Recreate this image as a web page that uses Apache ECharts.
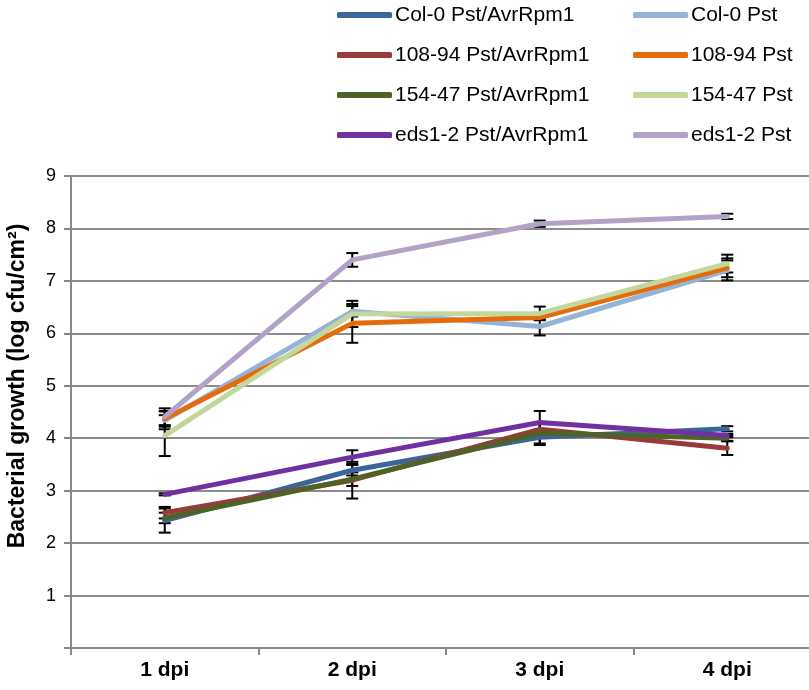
<!DOCTYPE html>
<html>
<head>
<meta charset="utf-8">
<script src="https://cdn.jsdelivr.net/npm/echarts@6/dist/echarts.min.js"></script>
<style>
  html, body { margin: 0; padding: 0; background: #fff; }
  #chart { width: 809px; height: 690px; }
</style>
</head>
<body>
<div id="chart"></div>
<script>
// time points
var days = ['1 dpi', '2 dpi', '3 dpi', '4 dpi']

// means (log cfu/cm2)
var col0Avr = [2.43, 3.39, 4.02, 4.18]
var col0Pst = [4.34, 6.42, 6.13, 7.20]
var l10894Avr = [2.58, 3.20, 4.17, 3.81]
var l10894Pst = [4.37, 6.19, 6.30, 7.25]
var l15447Avr = [2.48, 3.22, 4.10, 4.00]
var l15447Pst = [4.05, 6.37, 6.38, 7.33]
var eds1Avr = [2.93, 3.64, 4.30, 4.05]
var eds1Pst = [4.41, 7.40, 8.09, 8.23]

// error bars (+/-)
var col0AvrErr = [0.23, 0.10, 0.15, 0.05]
var col0PstErr = [0.17, 0.10, 0.17, 0.19]
var l10894AvrErr = [0.11, 0.35, 0.10, 0.13]
var l10894PstErr = [0.15, 0.37, 0.04, 0.18]
var l15447AvrErr = [0.10, 0.13, 0.20, 0.05]
var l15447PstErr = [0.39, 0.25, 0.13, 0.17]
var eds1AvrErr = [0.02, 0.13, 0.22, 0.03]
var eds1PstErr = [0.16, 0.13, 0.06, 0.05]

var lines = [
  { name: 'Col-0 Pst/AvrRpm1', data: col0Avr, err: col0AvrErr, color: '#3b6699' },
  { name: 'Col-0 Pst', data: col0Pst, err: col0PstErr, color: '#95b3d7' },
  { name: '108-94 Pst/AvrRpm1', data: l10894Avr, err: l10894AvrErr, color: '#993b3b' },
  { name: '108-94 Pst', data: l10894Pst, err: l10894PstErr, color: '#e46c0a' },
  { name: '154-47 Pst/AvrRpm1', data: l15447Avr, err: l15447AvrErr, color: '#4f6228' },
  { name: '154-47 Pst', data: l15447Pst, err: l15447PstErr, color: '#c3d69b' },
  { name: 'eds1-2 Pst/AvrRpm1', data: eds1Avr, err: eds1AvrErr, color: '#7030a0' },
  { name: 'eds1-2 Pst', data: eds1Pst, err: eds1PstErr, color: '#b3a2c7' }
]

var font = '"Liberation Sans", Arial, sans-serif'

function errorBar(params, api) {
  var x = api.value(0)
  var top = api.coord([x, api.value(2)])
  var bot = api.coord([x, api.value(1)])
  var half = 6
  var st = { stroke: '#000', lineWidth: 2 }
  return {
    type: 'group',
    children: [
      { type: 'line', shape: { x1: top[0], y1: top[1], x2: bot[0], y2: bot[1] }, style: st },
      { type: 'line', shape: { x1: top[0] - half, y1: top[1], x2: top[0] + half, y2: top[1] }, style: st },
      { type: 'line', shape: { x1: bot[0] - half, y1: bot[1], x2: bot[0] + half, y2: bot[1] }, style: st }
    ]
  }
}

var series = []
lines.forEach(function(s) {
  series.push({
    name: s.name + ' err',
    type: 'custom',
    z: 1,
    silent: true,
    clip: false,
    renderItem: errorBar,
    data: s.data.map(function(v, i) { return [i, v - s.err[i], v + s.err[i]] })
  })
})
lines.forEach(function(s) {
  series.push({
    name: s.name,
    type: 'line',
    z: 2,
    symbol: 'none',
    color: s.color,
    lineStyle: { color: s.color, width: 5, cap: 'round', join: 'round' },
    data: s.data
  })
})

var legendBase = {
  orient: 'vertical',
  top: 3,
  padding: 0,
  itemWidth: 55,
  itemHeight: 6,
  itemGap: 16,
  icon: 'roundRect',
  textStyle: { fontFamily: font, fontSize: 21, color: '#000', lineHeight: 24, padding: [0, 0, 0, -2] }
}

var chart = echarts.init(document.getElementById('chart'))
chart.setOption({
  backgroundColor: '#fff',
  animation: false,
  legend: [
    Object.assign({}, legendBase, { left: 337, data: [lines[0].name, lines[2].name, lines[4].name, lines[6].name] }),
    Object.assign({}, legendBase, { left: 633, data: [lines[1].name, lines[3].name, lines[5].name, lines[7].name] })
  ],
  grid: { left: 71, width: 750, top: 176, bottom: 42, outerBoundsMode: 'none', containLabel: false },
  xAxis: {
    type: 'category',
    data: days,
    boundaryGap: true,
    axisLine: { lineStyle: { color: '#888', width: 2 } },
    axisTick: { show: true, length: 7, lineStyle: { color: '#888', width: 2 } },
    axisLabel: { fontFamily: font, fontSize: 21, fontWeight: 'bold', color: '#000', margin: 12 }
  },
  yAxis: {
    type: 'value',
    min: 0,
    max: 9,
    interval: 1,
    axisLine: { show: true, lineStyle: { color: '#888', width: 2 } },
    axisTick: { show: true, length: 7, lineStyle: { color: '#888', width: 2 } },
    axisLabel: {
      fontFamily: font, fontSize: 18, color: '#000', margin: 15,
      formatter: function(v) { return v === 0 ? '' : v }
    },
    splitLine: { show: true, lineStyle: { color: '#8c8c8c', width: 2 } }
  },
  graphic: [
    {
      type: 'text',
      x: 18,
      y: 386,
      rotation: Math.PI / 2,
      style: {
        text: 'Bacterial growth (log cfu/cm²)',
        fontFamily: font,
        fontSize: 23,
        fontWeight: 'bold',
        fill: '#000',
        align: 'center',
        verticalAlign: 'middle'
      }
    }
  ],
  series: series
})
</script>
</body>
</html>
